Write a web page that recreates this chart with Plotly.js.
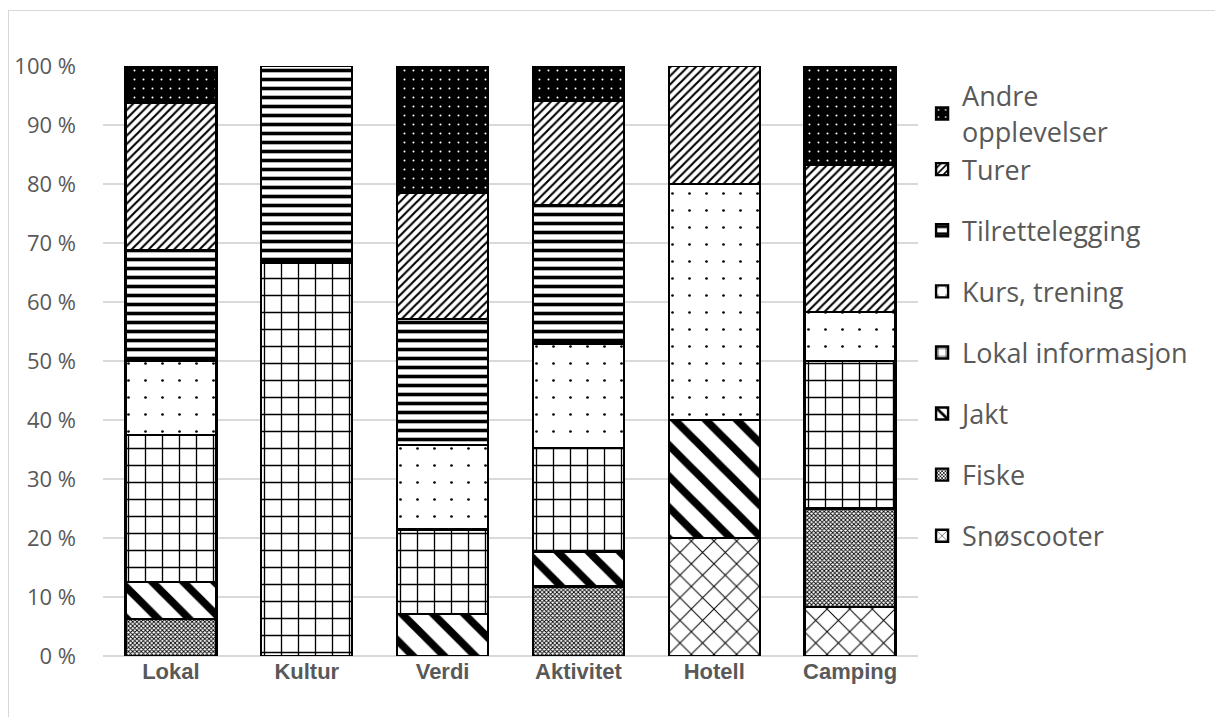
<!DOCTYPE html>
<html>
<head>
<meta charset="utf-8">
<script src="https://cdn.plot.ly/plotly-3.0.1.min.js"></script>
<style>
html,body{margin:0;padding:0;background:#fff;}
#frame{position:absolute;left:8px;top:10px;width:1300px;height:800px;border:1px solid #d9d9d9;box-sizing:border-box;}
#chart{position:absolute;left:0;top:0;width:1215px;height:717px;}
</style>
</head>
<body>
<div id="frame"></div>
<div id="chart"></div>
<script>
const categories = ["Lokal", "Kultur", "Verdi", "Aktivitet", "Hotell", "Camping"];

// Percent shares per category (bottom to top of each stack)
const snoscooter      = [0,     0,     0,     0,     20, 8.33];
const fiske           = [6.25,  0,     0,     11.76, 0,  16.67];
const jakt            = [6.25,  0,     7.14,  5.88,  20, 0];
const lokalInfo       = [25,    66.67, 14.29, 17.65, 0,  25];
const kursTrening     = [12.5,  0,     14.29, 17.65, 40, 8.33];
const tilrettelegging = [18.75, 33.33, 21.43, 23.53, 0,  0];
const turer           = [25,    0,     21.43, 17.65, 20, 25];
const andre           = [6.25,  0,     21.43, 5.88,  0,  16.67];

const seriesNames = ["Snøscooter", "Fiske", "Jakt", "Lokal informasjon", "Kurs, trening",
                     "Tilrettelegging", "Turer", "Andre<br>opplevelser"];
const yTickVals = [0, 10, 20, 30, 40, 50, 60, 70, 80, 90, 100];
const yTickText = ["0 %", "10 %", "20 %", "30 %", "40 %", "50 %", "60 %", "70 %", "80 %", "90 %", "100 %"];

const seriesValues = [snoscooter, fiske, jakt, lokalInfo, kursTrening, tilrettelegging, turer, andre];
const patterns = [
  {shape: "x", size: 16, solidity: 0.12, fgcolor: "#000", bgcolor: "#fff", fillmode: "replace"},
  {shape: "x", size: 3, solidity: 0.5, fgcolor: "#000", bgcolor: "#fff", fillmode: "replace"},
  {shape: "\\", size: 22, solidity: 0.35, fgcolor: "#000", bgcolor: "#fff", fillmode: "replace"},
  {shape: "+", size: 17, solidity: 0.15, fgcolor: "#000", bgcolor: "#fff", fillmode: "replace"},
  {shape: ".", size: 17, solidity: 0.02, fgcolor: "#000", bgcolor: "#fff", fillmode: "replace"},
  {shape: "-", size: 9, solidity: 0.4, fgcolor: "#000", bgcolor: "#fff", fillmode: "replace"},
  {shape: "/", size: 6, solidity: 0.35, fgcolor: "#000", bgcolor: "#fff", fillmode: "replace"},
  {shape: ".", size: 9, solidity: 0.04, fgcolor: "#fff", bgcolor: "#000", fillmode: "replace"}
];
const groups = ["g0", "g1", "g2", "g3", "g4", "g5", "top", "top"];

const traces = seriesValues.map((vals, i) => ({
  type: "bar",
  name: seriesNames[i],
  legendgroup: groups[i],
  legendrank: 100 * (seriesValues.length - i),
  x: categories,
  y: vals,
  marker: {color: "#fff", line: {color: "#000", width: 2.4}, pattern: patterns[i]},
  hoverinfo: "x+y+name"
}));

const layout = {
  width: 1215, height: 717,
  paper_bgcolor: "rgba(0,0,0,0)", plot_bgcolor: "rgba(0,0,0,0)",
  barmode: "stack",
  bargap: 0.33,
  margin: {l: 103, r: 297, t: 66, b: 61},
  font: {family: "'Open Sans', Lato, sans-serif", color: "#595959"},
  xaxis: {
    tickfont: {family: "'Liberation Sans Narrow', 'Liberation Sans', Arial, sans-serif", size: 22, color: "#595959", weight: "bold"},
    showline: false, ticks: "", showgrid: false, zeroline: false
  },
  yaxis: {
    range: [0, 100], tickmode: "array", tickvals: yTickVals, ticktext: yTickText,
    tickfont: {family: "'Open Sans', Lato, sans-serif", size: 22, color: "#595959"},
    showgrid: true, gridcolor: "#d9d9d9", gridwidth: 1.5,
    zeroline: true, zerolinecolor: "#d9d9d9", zerolinewidth: 1.5,
    showline: false, ticks: "", ticklabelstandoff: 26
  },
  showlegend: true,
  legend: {
    traceorder: "grouped",
    x: 1.005, xanchor: "left", y: 0.99, yanchor: "top",
    font: {family: "'Open Sans', Lato, sans-serif", size: 27, color: "#595959"},
    tracegroupgap: 23, itemwidth: 30
  }
};

Plotly.newPlot("chart", traces, layout, {displayModeBar: false, staticPlot: true});
</script>
</body>
</html>
